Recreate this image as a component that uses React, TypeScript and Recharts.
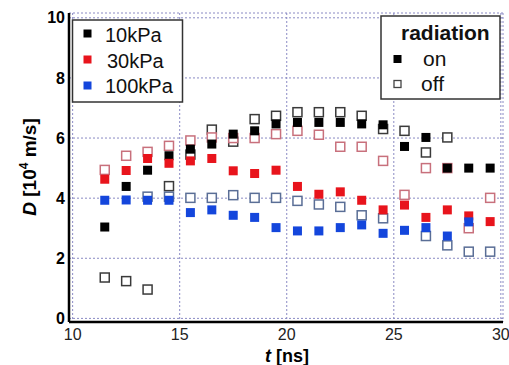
import { CartesianGrid, Scatter, ScatterChart, XAxis, YAxis } from 'recharts'

// measurement times (ns)
const TIMES = [
  11.5, 12.5, 13.5, 14.5, 15.5, 16.5, 17.5, 18.5, 19.5, 20.5, 21.5, 22.5, 23.5, 24.5, 25.5,
  26.5, 27.5, 28.5, 29.5,
]

// D [10^4 m/s], null = no point
const P10_ON = [
  3.04, 4.39, 4.93, 5.41, 5.63, 5.8, 6.13, 6.24, 6.47, 6.52, 6.52, 6.52, 6.47, 6.44, 5.72, 6.02,
  5.0, 5.0, 5.0,
]
const P10_OFF = [
  1.36, 1.24, 0.96, 4.4, 5.45, 6.28, 5.88, 6.63, 6.74, 6.86, 6.86, 6.86, 6.74, 6.3, 6.24, 5.52,
  6.02, null, null,
]
const P30_ON = [
  4.63, 4.92, 5.32, 5.16, 5.24, 5.32, 4.91, 4.82, 4.93, 4.39, 4.13, 4.21, 3.93, 3.61, 3.77, 3.36,
  3.61, 3.41, 3.22,
]
const P30_OFF = [
  4.94, 5.41, 5.54, 5.74, 5.92, 6.02, 6.0, 6.0, 6.13, 6.24, 6.11, 5.71, 5.71, 5.24, 4.11, 5.0,
  5.0, 3.0, 4.01,
]
const P100_ON = [
  3.93, 3.94, 3.93, 3.93, 3.52, 3.61, 3.43, 3.36, 3.02, 2.91, 2.91, 3.02, 3.11, 2.83, 2.93, 3.02,
  2.74, 3.21, null,
]
const P100_OFF = [
  null, null, 4.05, 4.05, 4.01, 4.01, 4.1, 4.01, 4.01, 3.91, 3.79, 3.71, 3.43, 3.33, null, 2.74,
  2.43, 2.22, 2.22,
]

const X_TICKS = [10, 15, 20, 25, 30]
const Y_TICKS = [0, 2, 4, 6, 8, 10]
const PRESSURES = ['10kPa', '30kPa', '100kPa']

const BLACK = '#000000'
const RED = '#e8141c'
const BLUE = '#1446dc'

const FONT = '"Liberation Sans", Arial, sans-serif'

function toPoints(values: (number | null)[]) {
  return TIMES.map((t, i) => ({ t, d: values[i] })).filter((p) => p.d !== null)
}

function square(fill: string, stroke: string) {
  return (props: any) => {
    const { cx, cy } = props
    if (cx == null || cy == null) return <g />
    const open = fill === '#fff'
    return (
      <rect
        x={cx - 4.5}
        y={cy - 4.5}
        width={9}
        height={9}
        fill={fill}
        stroke={stroke}
        strokeWidth={open ? 1.5 : 0}
      />
    )
  }
}

const SERIES = [
  { name: '10kPa off', data: toPoints(P10_OFF), shape: square('#fff', '#3a3a3a') },
  { name: '30kPa off', data: toPoints(P30_OFF), shape: square('#fff', '#c8707c') },
  { name: '100kPa off', data: toPoints(P100_OFF), shape: square('#fff', '#5a6e96') },
  { name: '10kPa on', data: toPoints(P10_ON), shape: square(BLACK, BLACK) },
  { name: '30kPa on', data: toPoints(P30_ON), shape: square(RED, RED) },
  { name: '100kPa on', data: toPoints(P100_ON), shape: square(BLUE, BLUE) },
]

const LEGEND_COLORS = [BLACK, RED, BLUE]

export default function App() {
  return (
    <div
      style={{
        position: 'absolute',
        left: 0,
        top: 0,
        width: 509,
        height: 365,
        background: '#fff',
        fontFamily: FONT,
      }}
    >
      <ScatterChart width={509} height={365} margin={{ top: 13, right: 6, bottom: 13, left: 0 }}>
        <CartesianGrid stroke="#8a8ac4" strokeDasharray="2 2" strokeWidth={1} />
        <XAxis
          type="number"
          dataKey="t"
          domain={[9.83, 30.1]}
          ticks={X_TICKS}
          allowDataOverflow
          height={30}
          tickLine={false}
          tickSize={6}
          tickMargin={1}
          axisLine={{ stroke: '#000', strokeWidth: 2.5 }}
          tick={{ fill: '#222', fontSize: 16, fontFamily: FONT }}
        />
        <YAxis
          type="number"
          dataKey="d"
          domain={[-0.12, 10.16]}
          ticks={Y_TICKS}
          allowDataOverflow
          width={69}
          tickLine={false}
          tickSize={2}
          tickMargin={2}
          axisLine={{ stroke: '#000', strokeWidth: 2.5 }}
          tick={{ fill: '#000', fontSize: 16, fontWeight: 'bold', fontFamily: FONT }}
        />
        <XAxis
          xAxisId="top"
          orientation="top"
          type="number"
          domain={[9.83, 30.1]}
          ticks={X_TICKS}
          height={0}
          mirror
          tick={false}
          tickSize={4}
          tickLine={{ stroke: '#000' }}
          axisLine={{ stroke: '#000', strokeWidth: 1.5 }}
        />
        <YAxis
          yAxisId="right"
          orientation="right"
          type="number"
          domain={[-0.12, 10.16]}
          ticks={Y_TICKS}
          width={0}
          mirror
          tick={false}
          tickSize={4}
          tickLine={{ stroke: '#000' }}
          axisLine={{ stroke: '#000', strokeWidth: 1.5 }}
        />
        {SERIES.map((s) => (
          <Scatter
            key={s.name}
            name={s.name}
            data={s.data}
            shape={s.shape}
            isAnimationActive={false}
          />
        ))}

        {/* pressure legend */}
        <g fontFamily={FONT}>
          <rect x={72.5} y={20} width={110} height={82} fill="#fff" stroke="#333" strokeWidth={1.5} />
          {PRESSURES.map((p, i) => (
            <g key={p}>
              <rect x={83.5} y={29.5 + i * 26} width={8} height={8} fill={LEGEND_COLORS[i]} />
              <text x={i === 1 ? 107 : 105} y={42 + i * 25.5} fontSize={20} fill="#111">
                {p}
              </text>
            </g>
          ))}
        </g>

        {/* radiation legend */}
        <g fontFamily={FONT}>
          <rect x={381} y={16} width={119} height={83} fill="#fff" stroke="#333" strokeWidth={1.5} />
          <text x={401} y={40} fontSize={21} fontWeight="bold" fill="#111">
            radiation
          </text>
          <rect x={393.5} y={55} width={8} height={8} fill="#000" />
          <text x={423} y={65.5} fontSize={21} fill="#111">
            on
          </text>
          <rect x={394} y={80.5} width={7} height={7} fill="#fff" stroke="#444" strokeWidth={1.3} />
          <text x={421} y={91} fontSize={21} fill="#111">
            off
          </text>
        </g>

        {/* axis titles */}
        <text x={287} y={362} textAnchor="middle" fontSize={18} fontWeight="bold" fontFamily={FONT}>
          <tspan fontStyle="italic">t</tspan> [ns]
        </text>
        <text
          transform="translate(36, 167) rotate(-90)"
          textAnchor="middle"
          fontSize={19}
          fontWeight="bold"
          fontFamily={FONT}
        >
          <tspan fontStyle="italic">D</tspan> [10
          <tspan dy={-8} fontSize={12}>
            4
          </tspan>
          <tspan dy={8}> m/s]</tspan>
        </text>
      </ScatterChart>
    </div>
  )
}
